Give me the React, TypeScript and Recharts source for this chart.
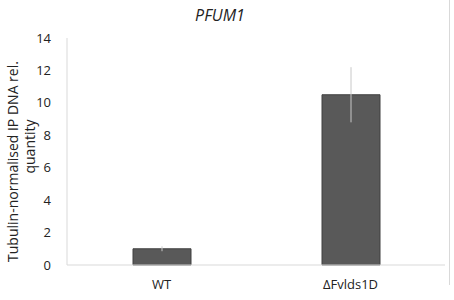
import { BarChart, Bar, XAxis, YAxis, ErrorBar } from "recharts";

const strains = ["WT", "ΔFvlds1D"];
const quantity = [1.0, 10.5];
const quantityErr = [0.15, 1.7];
const yTicks = [0, 2, 4, 6, 8, 10, 12, 14];

const data = strains.map((name, i) => ({ name, value: quantity[i], err: quantityErr[i] }));

const font = "'Open Sans', 'Liberation Sans', sans-serif";

function YLabel(props: any) {
  const vb = props.viewBox || {};
  const cy = vb.y + vb.height / 2;
  const y1 = cy + 10;
  const y2 = cy - 5;
  return (
    <g fontFamily={font} fontSize={14} fill="#222">
      <text x={14} y={y1} transform={`rotate(-90 14 ${y1})`} textAnchor="middle" dominantBaseline="middle">
        Tubulin-normalised IP DNA rel.
      </text>
      <text x={31} y={y2} transform={`rotate(-90 31 ${y2})`} textAnchor="middle" dominantBaseline="middle">
        quantity
      </text>
    </g>
  );
}

export default function App() {
  return (
    <div style={{ position: "absolute", left: 0, top: 0, width: 454, height: 300, background: "#fff" }}>
      <div
        style={{
          position: "absolute",
          top: 4,
          left: 0,
          width: 440,
          textAlign: "center",
          fontFamily: font,
          fontStyle: "italic",
          fontSize: 16,
          color: "#222",
        }}
      >
        PFUM1
      </div>
      <div style={{ position: "absolute", right: 4, top: 0, height: 285, borderRight: "1px solid #d9d9d9" }} />
      <BarChart width={454} height={300} data={data} margin={{ top: 38, right: 9, bottom: 5, left: 37 }}>
        <XAxis
          dataKey="name"
          stroke="#d9d9d9"
          tickLine={false}
          tick={{ fill: "#222", fontSize: 13, fontFamily: font }}
          tickMargin={9}
        />
        <YAxis
          width={30}
          domain={[0, 14]}
          ticks={yTicks}
          stroke="#d9d9d9"
          tickLine={false}
          tick={{ fill: "#222", fontSize: 13, fontFamily: font }}
          tickMargin={10}
          label={{ content: YLabel }}
        />
        <Bar dataKey="value" fill="#595959" stroke="#404040" strokeWidth={1} barSize={58} isAnimationActive={false}>
          <ErrorBar dataKey="err" direction="y" width={0} stroke="#c8c8c8" strokeWidth={1} />
        </Bar>
      </BarChart>
    </div>
  );
}
